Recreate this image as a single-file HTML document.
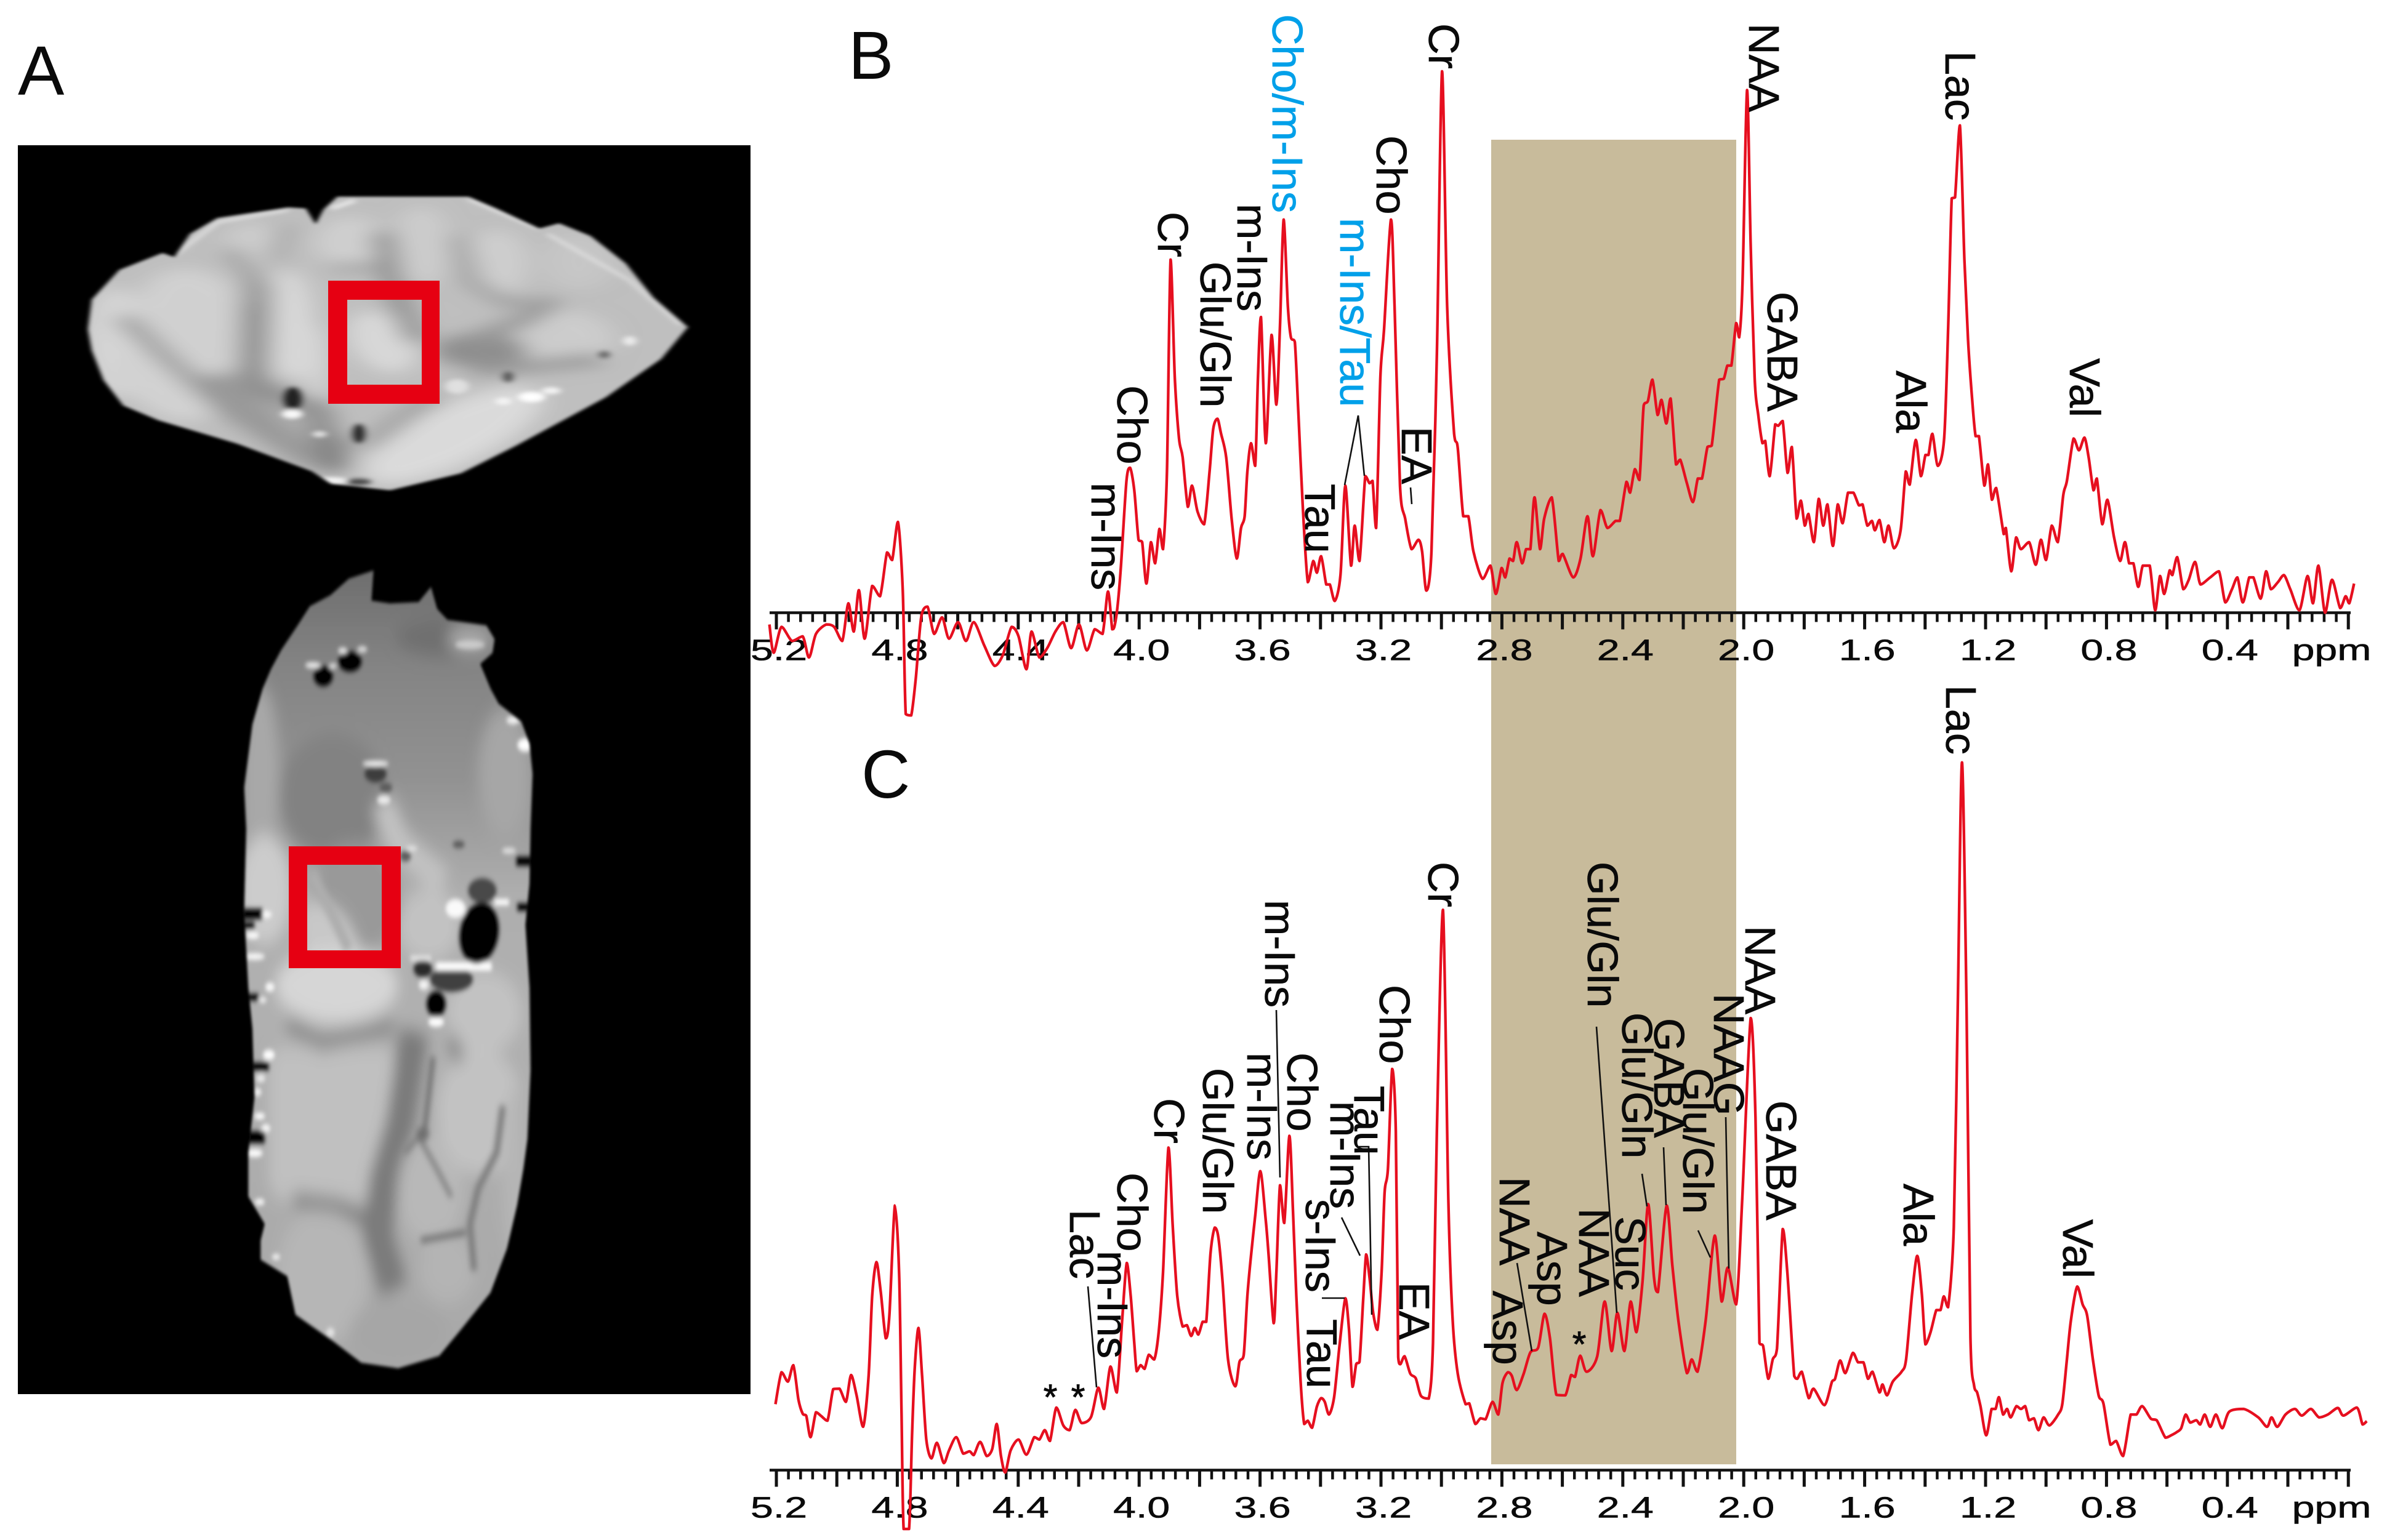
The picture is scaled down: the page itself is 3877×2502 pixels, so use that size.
<!DOCTYPE html>
<html lang="en">
<head>
<meta charset="utf-8">
<title>MR image and 1H NMR spectra</title>
<style>
html,body{margin:0;padding:0;background:#fff;}
svg{display:block;}
text{font-family:"Liberation Sans",Arial,sans-serif;fill:#0a0a0a;}
.pk{font-size:70px;stroke:#0a0a0a;stroke-width:0.7px;}
.blue{fill:#00a0e9;stroke:#00a0e9;}
.ltr{font-size:110px;}
.lead{stroke:#111;stroke-width:2.6;fill:none;}
.star{font-size:58px;stroke:#0a0a0a;stroke-width:1px;}
.tk{stroke:#0a0a0a;stroke-width:0.6px;}
</style>
</head>
<body>
<svg id="fig" xmlns="http://www.w3.org/2000/svg" width="3877" height="2502" viewBox="0 0 3877 2502">
<rect x="0" y="0" width="3877" height="2502" fill="#fff"/>

<text class="ltr" x="29" y="154" style="font-size:113px">A</text>
<text class="ltr" x="1378" y="128">B</text>
<text class="ltr" x="1399" y="1296">C</text>

<rect x="29" y="236" width="1190" height="2029" fill="#000"/>
<defs>
  <filter id="soft" filterUnits="userSpaceOnUse" x="-200" y="-200" width="2000" height="3600"><feGaussianBlur stdDeviation="32"/></filter>
  <filter id="mid" filterUnits="userSpaceOnUse" x="-200" y="-200" width="2000" height="3600"><feGaussianBlur stdDeviation="12"/></filter>
  <filter id="fine" filterUnits="userSpaceOnUse" x="-200" y="-200" width="2000" height="3600"><feGaussianBlur stdDeviation="7"/></filter>
  <filter id="edge" filterUnits="userSpaceOnUse" x="-200" y="-200" width="2000" height="3600"><feGaussianBlur stdDeviation="6"/></filter>
  <linearGradient id="lowGrad" gradientUnits="userSpaceOnUse" x1="0" y1="60" x2="0" y2="3000">
    <stop offset="0" stop-color="#6e6e6e"/>
    <stop offset="0.12" stop-color="#848484"/>
    <stop offset="0.26" stop-color="#929292"/>
    <stop offset="0.4" stop-color="#aeaeae"/>
    <stop offset="0.55" stop-color="#b0b0b0"/>
    <stop offset="1" stop-color="#a8a8a8"/>
  </linearGradient>
  <clipPath id="upClip"><path d="M20 740L30 600L100 460L210 380L240 400L280 290L350 215L530 165L575 170L600 245L620 175L655 115L860 115L990 115L1060 170L1170 265L1220 240L1300 300L1390 430L1460 590L1548 730L1480 880L1340 1060L1230 1170L1110 1290L970 1420L790 1500L640 1470L590 1410L400 1280L200 1170L110 1100L60 980L30 840Z"/></clipPath>
  <clipPath id="lowClip"><path d="M370 190L470 150L560 90L680 60L670 170L760 180L900 175L960 120L990 200L1040 240L1230 260L1270 310L1260 360L1200 400L1250 490L1290 545L1400 610L1440 690L1455 800L1445 1000L1440 1200L1420 1350L1440 1578L1445 1878L1430 2128L1410 2238L1380 2368L1330 2528L1250 2688L1100 2828L1000 2918L800 2963L620 2943L480 2863L300 2768L260 2628L130 2568L130 2498L150 2438L70 2338L70 2178L100 1978L90 1728L70 1578L50 1300L60 1000L50 850L90 620L140 490L180 420L230 350L310 260Z"/></clipPath>
</defs>

<svg x="130" y="280" width="1000" height="540" viewBox="0 0 1568 1568" preserveAspectRatio="none">
 <g filter="url(#edge)">
  <g clip-path="url(#upClip)">
    <rect x="0" y="0" width="1568" height="1568" fill="#bfbfbf"/>
    <g filter="url(#soft)">
      <ellipse cx="300" cy="700" rx="150" ry="250" transform="rotate(-12 300 700)" fill="#d0d0d0"/>
      <ellipse cx="90" cy="800" rx="80" ry="260" fill="#d4d4d4"/>
      <ellipse cx="530" cy="720" rx="65" ry="260" fill="#d8d8d8"/>
      <ellipse cx="600" cy="900" rx="30" ry="180" fill="#d6d6d6"/>
      <ellipse cx="440" cy="340" rx="70" ry="100" fill="#cccccc"/>
      <ellipse cx="690" cy="330" rx="90" ry="120" fill="#cfcfcf"/>
      <ellipse cx="870" cy="350" rx="70" ry="190" fill="#cccccc"/>
      <ellipse cx="1060" cy="430" rx="80" ry="160" fill="#cecece"/>
      <ellipse cx="770" cy="800" rx="80" ry="150" transform="rotate(-15 770 800)" fill="#d8d8d8"/>
      <ellipse cx="1220" cy="790" rx="140" ry="140" fill="#cccccc"/>
      <ellipse cx="1270" cy="420" rx="90" ry="130" fill="#c6c6c6"/>
      <ellipse cx="950" cy="1240" rx="300" ry="120" transform="rotate(-45 950 1240)" fill="#dadada"/>
      <ellipse cx="220" cy="1010" rx="100" ry="180" transform="rotate(-30 220 1010)" fill="#d2d2d2"/>
      <path d="M110 680L200 840L370 1120L580 1370" stroke="#989898" stroke-width="50" fill="none"/>
      <path d="M450 520L445 800L440 1000L600 1120L650 1400" stroke="#8f8f8f" stroke-width="80" fill="none"/>
      <path d="M330 960L470 1160L590 1370" stroke="#999" stroke-width="80" fill="none"/>
      <path d="M385 360L440 500L450 620" stroke="#9e9e9e" stroke-width="44" fill="none"/>
      <path d="M530 250L490 420" stroke="#a0a0a0" stroke-width="34" fill="none"/>
      <path d="M770 280L790 470L820 650L860 800" stroke="#8e8e8e" stroke-width="56" fill="none"/>
      <path d="M640 445L760 445" stroke="#a2a2a2" stroke-width="40" fill="none"/>
      <path d="M960 300L1000 520L1090 620L1150 600" stroke="#9e9e9e" stroke-width="44" fill="none"/>
      <ellipse cx="1020" cy="840" rx="120" ry="80" fill="#8e8e8e"/>
      <path d="M1000 790L1130 700L1210 600" stroke="#989898" stroke-width="60" fill="none"/>
      <path d="M1000 940L1330 880" stroke="#9a9a9a" stroke-width="60" fill="none"/>
      <path d="M640 1250L640 1410" stroke="#848484" stroke-width="84" fill="none"/>
      <path d="M900 1060L720 1300" stroke="#9e9e9e" stroke-width="56" fill="none"/>
    </g>
    <g filter="url(#fine)">
      <path d="M240 390L350 235L530 178" stroke="#efefef" stroke-width="9" fill="none"/>
      <path d="M640 170L700 132" stroke="#f2f2f2" stroke-width="14" fill="none"/>
      <path d="M990 125L1060 180L1170 265" stroke="#f2f2f2" stroke-width="10" fill="none"/>
      <path d="M1190 290L1400 510L1530 720" stroke="#ececec" stroke-width="8" fill="none"/>
      <ellipse cx="542" cy="1068" rx="24" ry="56" fill="#222"/>
      <ellipse cx="540" cy="1140" rx="26" ry="22" fill="#fafafa"/>
      <ellipse cx="710" cy="1232" rx="17" ry="46" fill="#2a2a2a"/>
      <ellipse cx="1150" cy="1060" rx="34" ry="24" fill="#fff"/>
      <ellipse cx="1200" cy="1030" rx="24" ry="16" fill="#f4f4f4"/>
      <ellipse cx="1078" cy="1080" rx="20" ry="17" fill="#f4f4f4"/>
      <ellipse cx="960" cy="1010" rx="30" ry="34" fill="#e0e0e0"/>
      <ellipse cx="1400" cy="795" rx="17" ry="22" fill="#ececec"/>
      <ellipse cx="1090" cy="965" rx="14" ry="26" fill="#5a5a5a"/>
      <ellipse cx="1335" cy="860" rx="15" ry="18" fill="#6a6a6a"/>
      <ellipse cx="640" cy="1455" rx="42" ry="16" fill="#f6f6f6"/>
      <ellipse cx="610" cy="1235" rx="18" ry="14" fill="#e4e4e4"/>
      <ellipse cx="710" cy="1460" rx="32" ry="16" fill="#4a4a4a"/>
    </g>
  </g>
 </g>
</svg>

<svg x="380" y="900" width="520" height="1360" viewBox="0 0 1560 3046" preserveAspectRatio="none">
 <g filter="url(#edge)">
  <g clip-path="url(#lowClip)">
    <rect x="0" y="0" width="1560" height="3046" fill="url(#lowGrad)"/>
    <g filter="url(#soft)">
      <ellipse cx="130" cy="800" rx="90" ry="320" fill="#a8a8a8"/>
      <ellipse cx="480" cy="880" rx="260" ry="230" fill="#828282"/>
      <ellipse cx="1320" cy="800" rx="130" ry="240" fill="#a6a6a6"/>
      <ellipse cx="1030" cy="300" rx="240" ry="70" fill="#707070"/>
      <ellipse cx="1150" cy="310" rx="110" ry="46" fill="#ababab"/>
      <path d="M720 900L800 1050L1020 1200" stroke="#c2c2c2" stroke-width="110" fill="none"/>
      <ellipse cx="150" cy="1220" rx="130" ry="200" fill="#cccccc"/>
      <ellipse cx="600" cy="1250" rx="210" ry="190" transform="rotate(35 600 1250)" fill="#999"/>
      <ellipse cx="460" cy="1400" rx="170" ry="110" transform="rotate(40 460 1400)" fill="#c8c8c8"/>
      <ellipse cx="950" cy="1350" rx="150" ry="130" fill="#c2c2c2"/>
      <ellipse cx="500" cy="1570" rx="300" ry="140" fill="#d6d6d6"/>
      <rect x="170" y="1790" width="610" height="560" rx="80" fill="#c0c0c0"/>
      <path d="M260 1708L430 1778L780 1718" stroke="#8a8a8a" stroke-width="60" fill="none"/>
      <path d="M880 1738L810 2078L730 2278L700 2478L780 2678" stroke="#7a7a7a" stroke-width="140" fill="none"/>
      <ellipse cx="430" cy="2628" rx="220" ry="250" fill="#b6b6b6"/>
      <path d="M290 2348L500 2368L650 2428" stroke="#777" stroke-width="44" fill="none"/>
      <ellipse cx="960" cy="2308" rx="160" ry="200" fill="#b8b8b8"/>
      <ellipse cx="1040" cy="2598" rx="135" ry="130" fill="#b4b4b4"/>
      <ellipse cx="1200" cy="2028" rx="210" ry="230" fill="#c2c2c2"/>
      <ellipse cx="1220" cy="1668" rx="180" ry="150" fill="#c2c2c2"/>
      <path d="M1060 1758L1100 1848" stroke="#858585" stroke-width="50" fill="none"/>
      <ellipse cx="1370" cy="2250" rx="60" ry="310" fill="#b6b6b6"/>
      <ellipse cx="800" cy="2830" rx="240" ry="120" fill="#a6a6a6"/>
    </g>
    <g filter="url(#mid)">
      <path d="M1310 2008L1280 2178L1190 2308L1150 2438L1170 2608" stroke="#7c7c7c" stroke-width="30" fill="none"/>
      <path d="M910 2498L1130 2468" stroke="#6e6e6e" stroke-width="22" fill="none"/>
      <path d="M830 2180L900 2120L990 2240L1060 2340" stroke="#7e7e7e" stroke-width="20" fill="none"/>
      <ellipse cx="920" cy="2110" rx="32" ry="26" fill="#6e6e6e"/>
      <path d="M970 1830L930 2090" stroke="#707070" stroke-width="24" fill="none"/>
      <path d="M380 1160L560 1440" stroke="#adadad" stroke-width="46" fill="none"/>
    </g>
    <g filter="url(#fine)">
      <ellipse cx="1210" cy="1225" rx="70" ry="46" fill="#4a4a4a"/>
      <ellipse cx="1060" cy="1548" rx="105" ry="46" fill="#404040"/>
      <ellipse cx="920" cy="1510" rx="46" ry="32" fill="#2a2a2a"/>
      <ellipse cx="1080" cy="1290" rx="48" ry="34" fill="#fafafa"/>
      <rect x="985" y="1486" width="270" height="30" fill="#fff"/>
      <rect x="1270" y="1256" width="70" height="22" fill="#fff"/>
      <rect x="860" y="1462" width="100" height="18" fill="#e6e6e6"/>
      <ellipse cx="1195" cy="1380" rx="94" ry="114" transform="rotate(22 1195 1380)" fill="#000"/>
      <ellipse cx="985" cy="1638" rx="48" ry="48" fill="#000"/>
      <ellipse cx="985" cy="1703" rx="38" ry="17" fill="#fff"/>
      <ellipse cx="925" cy="1568" rx="24" ry="18" fill="#f4f4f4"/>
      <ellipse cx="435" cy="445" rx="48" ry="38" fill="#000"/>
      <ellipse cx="565" cy="392" rx="58" ry="38" fill="#000"/>
      <ellipse cx="385" cy="405" rx="38" ry="10" fill="#f4f4f4"/>
      <ellipse cx="482" cy="408" rx="18" ry="8" fill="#f4f4f4"/>
      <ellipse cx="530" cy="352" rx="22" ry="10" fill="#f4f4f4"/>
      <ellipse cx="625" cy="347" rx="24" ry="10" fill="#e6e6e6"/>
      <ellipse cx="690" cy="800" rx="54" ry="32" fill="#3c3c3c"/>
      <ellipse cx="690" cy="763" rx="64" ry="10" fill="#f4f4f4"/>
      <ellipse cx="740" cy="850" rx="32" ry="18" fill="#5c5c5c"/>
      <ellipse cx="730" cy="895" rx="32" ry="16" fill="#ececec"/>
      <ellipse cx="835" cy="1100" rx="28" ry="20" fill="#5c5c5c"/>
      <ellipse cx="865" cy="1072" rx="28" ry="9" fill="#e4e4e4"/>
      <ellipse cx="1095" cy="1057" rx="30" ry="14" fill="#5c5c5c"/>
      <ellipse cx="1420" cy="695" rx="38" ry="24" fill="#fff"/>
      <ellipse cx="1360" cy="605" rx="32" ry="14" fill="#f4f4f4"/>
      <ellipse cx="1340" cy="1080" rx="34" ry="10" fill="#e4e4e4"/>
      <ellipse cx="1150" cy="330" rx="72" ry="16" fill="#cccccc"/>
      <ellipse cx="150" cy="1312" rx="34" ry="12" fill="#fff"/>
      <ellipse cx="90" cy="1388" rx="32" ry="12" fill="#fff"/>
      <ellipse cx="100" cy="1465" rx="50" ry="12" fill="#fafafa"/>
      <ellipse cx="175" cy="1576" rx="22" ry="16" fill="#fafafa"/>
      <ellipse cx="140" cy="1623" rx="18" ry="10" fill="#f4f4f4"/>
      <ellipse cx="170" cy="1823" rx="28" ry="18" fill="#fff"/>
      <ellipse cx="130" cy="1908" rx="22" ry="14" fill="#ececec"/>
      <ellipse cx="115" cy="1958" rx="18" ry="14" fill="#f4f4f4"/>
      <ellipse cx="125" cy="2046" rx="26" ry="12" fill="#fff"/>
      <ellipse cx="155" cy="2090" rx="22" ry="14" fill="#fafafa"/>
      <ellipse cx="100" cy="2180" rx="40" ry="14" fill="#fff"/>
      <ellipse cx="125" cy="2358" rx="24" ry="11" fill="#fafafa"/>
      <ellipse cx="205" cy="2558" rx="20" ry="10" fill="#f6f6f6"/>
      <ellipse cx="470" cy="2833" rx="20" ry="16" fill="#e6e6e6"/>
      <rect x="30" y="1290" width="110" height="40" fill="#000"/>
      <rect x="30" y="1340" width="70" height="24" fill="#000"/>
      <rect x="40" y="1600" width="80" height="26" fill="#000"/>
      <rect x="40" y="1850" width="130" height="30" fill="#000"/>
      <rect x="40" y="2100" width="110" height="45" fill="#000"/>
      <rect x="1375" y="1100" width="100" height="36" fill="#000"/>
      <rect x="1380" y="1270" width="90" height="30" fill="#000"/>
    </g>
  </g>
 </g>
</svg>

<path fill-rule="evenodd" fill="#e60012" d="M533 456H714V656H533ZM564 487V625H685V487Z"/>
<path fill-rule="evenodd" fill="#e60012" d="M469 1375H651V1573H469ZM499 1405V1544H620V1405Z"/>

<rect x="2422" y="227" width="398" height="2152" fill="#c8bb9b"/>

<g id="axes"></g>
<g id="traces"></g>

<g>
  <path class="lead" d="M2184 788L2206 675L2216 773"/>
  <path class="lead" d="M2291 792L2293 819"/>
</g>
<g>
  <text class="pk blue" transform="translate(2067,23) rotate(90)">Cho/m-Ins</text>
  <text class="pk blue" transform="translate(2177,354) rotate(90)">m-Ins/Tau</text>
  <text class="pk" transform="translate(1881,344) rotate(90)">Cr</text>
  <text class="pk" transform="translate(1950,425) rotate(90)">Glu/Gln</text>
  <text class="pk" transform="translate(2010,331) rotate(90)">m-Ins</text>
  <text class="pk" transform="translate(1815,626) rotate(90)">Cho</text>
  <text class="pk" transform="translate(1773,784) rotate(90)">m-Ins</text>
  <text class="pk" transform="translate(2120,786) rotate(90)">Tau</text>
  <text class="pk" transform="translate(2236,220) rotate(90)">Cho</text>
  <text class="pk" transform="translate(2277,693) rotate(90)">EA</text>
  <text class="pk" transform="translate(2321,38) rotate(90)">Cr</text>
  <text class="pk" transform="translate(2841,38) rotate(90)">NAA</text>
  <text class="pk" transform="translate(2871,474) rotate(90)">GABA</text>
  <text class="pk" transform="translate(3160,83) rotate(90)">Lac</text>
  <text class="pk" transform="translate(3080,602) rotate(90)">Ala</text>
  <text class="pk" transform="translate(3362,582) rotate(90)">Val</text>
</g>

<g>
  <path class="lead" d="M2073 1641L2079 1913"/>
  <path class="lead" d="M1767 2090L1781 2254"/>
  <path class="lead" d="M2179 1978L2209 2040"/>
  <path class="lead" d="M2207 1863L2223 1863L2228 2136"/>
  <path class="lead" d="M2147 2109L2184 2109"/>
  <path class="lead" d="M2464 2052L2488 2195"/>
  <path class="lead" d="M2593 1668L2626 2133"/>
  <path class="lead" d="M2667 1907L2675 1960"/>
  <path class="lead" d="M2702 1864L2706 1958"/>
  <path class="lead" d="M2758 1999L2778 2043"/>
  <path class="lead" d="M2803 1815L2808 2061"/>
</g>
<g>
  <text class="pk" transform="translate(2320,1400) rotate(90)">Cr</text>
  <text class="pk" transform="translate(2055,1462) rotate(90)">m-Ins</text>
  <text class="pk" transform="translate(2026,1710) rotate(90)">m-Ins</text>
  <text class="pk" transform="translate(2091,1710) rotate(90)">Cho</text>
  <text class="pk" transform="translate(1954,1735) rotate(90)">Glu/Gln</text>
  <text class="pk" transform="translate(1875,1784) rotate(90)">Cr</text>
  <text class="pk" transform="translate(1815,1905) rotate(90)">Cho</text>
  <text class="pk" transform="translate(1738,1965) rotate(90)">Lac</text>
  <text class="pk" transform="translate(1783,2032) rotate(90)">m-Ins</text>
  <text class="pk" transform="translate(2241,1600) rotate(90)">Cho</text>
  <text class="pk" transform="translate(2200,1764) rotate(90)">Tau</text>
  <text class="pk" transform="translate(2161,1789) rotate(90)">m-Ins</text>
  <text class="pk" transform="translate(2121,1948) rotate(90)">s-Ins</text>
  <text class="pk" transform="translate(2123,2143) rotate(90)">Tau</text>
  <text class="pk" transform="translate(2273,2083) rotate(90)">EA</text>
  <text class="pk" transform="translate(2579,1400) rotate(90)">Glu/Gln</text>
  <text class="pk" transform="translate(2565,1963) rotate(90)">NAA</text>
  <text class="pk" transform="translate(2624,1976) rotate(90)">Suc</text>
  <text class="pk" transform="translate(2635,1645) rotate(90)">Glu/Gln</text>
  <text class="pk" transform="translate(2687,1654) rotate(90)">GABA</text>
  <text class="pk" transform="translate(2734,1735) rotate(90)">Glu/Gln</text>
  <text class="pk" transform="translate(2784,1614) rotate(90)">NAAG</text>
  <text class="pk" transform="translate(2835,1504) rotate(90)">NAA</text>
  <text class="pk" transform="translate(2869,1788) rotate(90)">GABA</text>
  <text class="pk" transform="translate(3092,1923) rotate(90)">Ala</text>
  <text class="pk" transform="translate(3161,1113) rotate(90)">Lac</text>
  <text class="pk" transform="translate(3351,1981) rotate(90)">Val</text>
  <text class="pk" transform="translate(2436,1912) rotate(90)">NAA</text>
  <text class="pk" transform="translate(2497,2001) rotate(90)">Asp</text>
  <text class="pk" transform="translate(2425,2097) rotate(90)">Asp</text>
  <text class="star" x="1706" y="2290" text-anchor="middle">*</text>
  <text class="star" x="1751" y="2290" text-anchor="middle">*</text>
  <text class="star" x="2565" y="2204" text-anchor="middle">*</text>
</g>
</svg>

<script>
// Tick labels (ppm)
var tickLabels = ["5.2","4.8","4.4","4.0","3.6","3.2","2.8","2.4","2.0","1.6","1.2","0.8","0.4"];

// Panel B spectrum: chemical shift (ppm) and intensity (a.u.)
var bPpm = [
5.223,5.209,5.183,5.148,5.113,5.092,5.069,5.035,5.009,4.982,
4.962,4.944,4.927,4.908,4.883,4.857,4.834,4.817,4.798,4.782,
4.772,4.754,4.739,4.721,4.700,4.678,4.652,4.629,4.599,4.573,
4.547,4.512,4.478,4.451,4.422,4.399,4.373,4.356,4.330,4.304,
4.277,4.251,4.225,4.199,4.173,4.147,4.121,4.103,4.089,4.082,
4.072,4.060,4.042,4.030,4.016,4.002,3.990,3.976,3.961,3.947,
3.933,3.921,3.908,3.896,3.882,3.868,3.856,3.839,3.825,3.807,
3.785,3.767,3.755,3.741,3.729,3.712,3.694,3.677,3.663,3.651,
3.642,3.630,3.616,3.607,3.597,3.581,3.562,3.546,3.534,3.522,
3.508,3.498,3.485,3.473,3.459,3.442,3.424,3.412,3.398,3.381,
3.369,3.353,3.334,3.318,3.299,3.287,3.271,3.252,3.238,3.228,
3.216,3.202,3.190,3.167,3.155,3.137,3.120,3.099,3.076,3.064,
3.050,3.033,3.015,2.998,2.981,2.958,2.946,2.928,2.911,2.894,
2.864,2.838,2.820,2.801,2.789,2.775,2.763,2.751,2.733,2.720,
2.706,2.692,2.674,
2.660,2.635,2.612,2.599,2.564,2.540,2.517,2.499,2.474,2.451,
2.424,2.410,2.388,2.376,2.360,2.345,2.331,2.317,2.302,2.285,
2.272,2.256,2.242,2.224,2.210,2.188,2.168,2.152,2.138,2.120,
2.106,2.081,2.066,2.054,2.041,2.025,2.015,2.004,1.989,1.977,
1.964,1.952,1.938,1.929,1.914,1.896,1.886,1.871,1.855,1.841,
1.825,1.811,1.798,1.786,1.768,1.752,1.737,1.723,1.705,1.689,
1.673,1.655,1.637,1.619,1.607,1.591,1.576,1.566,1.551,1.535,
1.521,1.503,1.481,1.464,1.451,1.431,1.414,1.399,1.389,1.376,
1.358,1.337,1.324,1.312,1.301,1.285,1.270,1.258,1.244,1.233,
1.222,1.204,1.192,1.179,1.165,1.140,1.133,1.115,1.099,1.083,
1.056,1.034,1.017,1.000,0.981,0.961,0.943,0.931,0.909,0.891,
0.873,0.859,0.843,0.832,0.814,0.797,0.775,0.755,0.739,0.725,
0.711,0.695,0.680,0.657,0.639,0.623,0.609,0.591,0.582,0.566,
0.546,0.528,0.507,0.489,0.457,0.428,0.407,0.385,0.367,0.349,
0.328,0.314,0.290,0.272,0.256,0.233,0.213,0.192,0.162,0.135,
0.117,0.099,0.077,0.054,0.027,0.009,-0.003,-0.019
];
var bIntensity = [
-2.5,-8.5,-3,-6,-5,-9.5,-4.5,-2.5,-3,-6,
2,-4,4.8,-5.5,5.7,3.5,12.8,11.2,19.3,5,
-21.5,-21.8,-14,-1,1.3,-4.5,-1,-5.5,-2,-6,
-2,-7,-11.3,-9,-3,-5,-12,-4,-9.5,-7.5,
-4,-2,-7.5,-2.5,-8,-3.5,-4.5,4.5,-3.5,-3,
1,10,28,30.8,26,15.5,15,6.2,15,10.5,
17.8,13.5,30,75,50,37,33,22.5,27,21.5,
18.8,30,39,41.2,38,33,20,11.5,18,20.5,
30,36,31.2,50,62.8,36,59,44.2,61,83.5,
65,58.5,57.5,42,23,6.5,11,8.5,12,6,
6,2.5,8,27,10,18.5,11,29,27.5,28,
18,50,60,83.5,65,27,20,13.5,15.5,13,
4.7,13,55,115,65,38,35,20.5,20.5,13,
7.2,10,4,9.5,7.5,11.5,11,15,10.5,13.5,
13.5,24.5,13.5,
20,24.5,11,12.5,7.5,11.5,20.5,12,21.8,18,
19.5,19.5,27.8,25.5,30.5,28.2,44,45,49.5,42,
45.2,40.2,45.5,31.5,32.5,27.5,23.5,28.5,28.5,35.2,
35.5,49.5,49.7,52.5,52.5,61.5,58.5,70,111,78,
50,42,36,36.5,29,40,39.7,40.7,29.7,35.2,
20,23.8,18.5,21,15,24.2,18.5,23,14.2,23,
19,25.5,25.5,22.8,23,18.5,19.5,17.5,19.7,15,
18.5,13.7,17.5,30,27.2,36.7,29,33.5,33.5,38,
31.2,37,60,88,88.2,103.5,75,58,45,37.5,
37.5,27,31.5,24,26.5,16.7,18,8.8,16,13.5,
15,10.2,15.5,11.2,18.5,15,25,28,37,34.5,
37.2,33,26,28.5,18.8,24,16,11,15,10.5,
10.5,5.5,10,10,0.5,7.8,4,9,8,11.8,
5,7,10.8,6,7.5,8.8,2.2,5,7.5,2.2,
7.5,7.5,3,8.8,5,6.5,8,5,0.5,7.8,
2,10,0,7,1,3.5,2,6.2
];

// Panel C spectrum: chemical shift (ppm) and intensity (a.u.)
var cPpm = [
5.203,5.183,5.162,5.144,5.127,5.113,5.101,5.087,5.069,5.052,
5.031,5.012,4.991,4.970,4.953,4.935,4.913,4.895,4.883,4.869,
4.855,4.838,4.826,4.808,4.794,4.786,4.779,4.761,4.751,4.742,
4.730,4.718,4.704,4.687,4.669,4.646,4.629,4.605,4.582,4.561,
4.547,4.526,4.504,4.486,4.471,4.457,4.443,4.425,4.399,4.373,
4.347,4.330,4.312,4.295,4.274,4.251,4.230,4.211,4.190,4.159,
4.135,4.116,4.095,4.074,4.056,4.041,4.028,4.016,4.008,3.995,
3.982,3.968,3.950,3.935,3.921,3.903,3.889,3.874,3.856,3.842,
3.828,3.816,3.804,3.790,3.778,3.764,3.750,3.738,3.724,3.706,
3.682,3.668,3.654,3.642,3.630,3.616,3.599,3.581,3.572,3.555,
3.546,3.534,3.520,3.503,3.491,3.480,3.466,3.454,3.442,3.428,
3.412,3.398,3.386,3.372,3.355,3.337,3.318,3.306,3.294,3.282,
3.271,3.259,3.249,3.238,3.226,3.212,3.198,3.188,3.177,3.163,
3.151,3.143,3.136,3.122,3.103,3.085,3.068,3.042,3.028,3.015,
2.995,2.977,2.963,2.946,2.920,2.908,2.888,2.871,2.854,2.831,
2.812,2.798,2.780,2.767,2.751,2.728,2.706,2.680,2.659,2.641,
2.620,
2.590,2.571,2.558,2.541,2.520,2.485,2.460,2.437,2.418,2.395,
2.374,2.355,2.335,2.316,2.297,2.284,2.255,2.236,2.216,2.188,
2.172,2.153,2.126,2.096,2.073,2.053,2.025,2.005,1.977,1.961,
1.948,1.936,1.919,1.904,1.890,1.871,1.856,1.833,1.823,1.808,
1.785,1.769,1.733,1.708,1.698,1.681,1.664,1.639,1.622,1.604,
1.589,1.574,1.551,1.541,1.526,1.507,1.478,1.463,1.443,1.426,
1.411,1.399,1.382,1.363,1.349,1.338,1.324,1.305,1.292,1.278,
1.263,1.250,1.238,1.228,1.217,1.198,1.180,1.167,1.156,1.142,
1.129,1.117,1.098,1.083,1.069,1.056,1.040,1.025,1.008,0.989,
0.960,0.946,0.931,0.918,0.897,0.879,0.864,0.845,0.826,0.810,
0.787,0.768,0.745,0.720,0.701,0.682,0.653,0.634,0.605,0.586,
0.567,0.553,0.538,0.523,0.503,0.490,0.475,0.457,0.438,0.417,
0.394,0.346,0.298,0.269,0.254,0.235,0.208,0.177,0.154,0.124,
0.097,0.068,0.035,0.016,-0.028,-0.047,-0.061
];
var cIntensity = [
14,20.8,18.8,22.3,15,12,11.5,7,12.3,11.5,
10.5,17.2,17.3,14.5,20.2,16,9.2,20,37,44.2,
38,28,33,56.2,42,12,-12.5,-12.5,8,22,
30.2,20,6.5,2.5,5.8,1.5,4.2,7,3.5,4,
3.2,6,3,4.5,9.8,3,-0.5,4.2,6.5,3.3,
7,6.5,8.5,6.2,13.3,9.5,8.5,12.8,10,11.3,
17.5,13,22,16.5,32,44,37,27,21,22.3,
21.5,24.5,23.5,29.5,42,68.5,52,37,30.5,30.8,
28.5,30.2,28.8,31.5,31.5,46,51.5,49.5,40,23.5,
17.8,23,24.5,37,45.5,54,63.5,53,46,31.2,
42,60.5,52.5,71,55,37,19,9.8,10.5,9,
13.5,15.3,14.5,11.8,15.5,26.5,36.5,30,17.7,22.5,
23,36,45.8,41,33.5,29.8,42,59,64,85.2,
72,24,22.5,24.2,20.5,19.5,15.8,15.2,27,72,
119,57,32,20.5,14,14.2,9.8,11,10.8,14.5,
11.8,18.5,20.8,20,17,20.5,25,26,33.2,28,
16,
15.9,20.2,19.8,24.3,20.9,24.1,35.8,25.3,33.4,25.3,
35.8,29.3,39.9,56.5,41,37.8,56.2,43.4,31.7,20.6,
23.5,20.9,31.7,49.8,35.8,43,35.2,57.4,96,74.9,
27,26.4,19.4,23.5,25.8,51.2,42.2,20,19.4,20.9,
15.3,17.3,13.8,18.8,19.4,23.3,20.6,24.9,22.9,22.9,
19.4,20.9,16.5,18.2,15.9,18.8,20.9,23.5,37.5,45.5,
37.5,26.7,29.3,34,34,36.9,34.6,51.6,98.3,150.3,
98.3,28.2,18,16.5,13.6,7.4,13,13,15.5,11.8,
13,11.2,13.6,13,13.6,10.6,11,8.5,11.2,9.5,
11.8,14.1,23.5,31.7,39,35.2,32.8,23.5,15.9,14.1,
5.4,6.2,3,11.8,11.8,13.6,10.9,10.6,6.9,7.4,
8.1,8.9,11.8,10.1,10.6,9.7,11.8,9.2,11.8,8.9,
12.4,13,11.2,9.2,11.2,9.2,11.8,13,11.6,13,
11.2,11.8,13.2,11.6,13.3,9.7,10.4
];

var SVGNS = "http://www.w3.org/2000/svg";
var X0 = 1261, PX_PER_PPM = 491, PX_PER_UNIT = 7.65;
var AXIS_B = 995.5, AXIS_C = 2388.5;
function xScale(ppm) { return X0 + (5.2 - ppm) * PX_PER_PPM; }
function yScale(v, axisY) { return axisY - v * PX_PER_UNIT; }

function make(tag, attrs, parent) {
  var el = document.createElementNS(SVGNS, tag);
  for (var k in attrs) { el.setAttribute(k, attrs[k]); }
  parent.appendChild(el);
  return el;
}

function drawAxis(axisY, panel) {
  var root = document.getElementById("axes");
  var line = make("line", {x1: 1250, x2: 3818, y1: axisY, y2: axisY, stroke: "#111", "stroke-width": 4.5}, root);
  
  
  var minorCount = Math.round(5.2 / 0.04);
  var d = "", D = "";
  for (var i = 0; i <= minorCount; i++) {
    var ppm = 5.2 - i * 0.04;
    var x = xScale(ppm);
    if (i % 5 === 0) { D += "M" + x.toFixed(1) + " " + axisY + "V" + (axisY + 27); }
    else { d += "M" + x.toFixed(1) + " " + axisY + "V" + (axisY + 15); }
  }
  var minor = make("path", {d: d, stroke: "#111", "stroke-width": 4.5, fill: "none"}, root);
  
  
  var major = make("path", {d: D, stroke: "#111", "stroke-width": 5, fill: "none"}, root);
  
  
  var baseY = axisY + 77;
  tickLabels.forEach(function (label) {
    var tx = xScale(parseFloat(label)) + 4;
    var t = make("text", {"class": "tk", "text-anchor": "middle", transform: "translate(" + tx.toFixed(1) + "," + baseY + ") scale(1.38,1)", "font-size": 48}, root);
    
    
    t.textContent = label;
  });
  var u = make("text", {"class": "tk", "text-anchor": "middle", transform: "translate(3787," + baseY + ") scale(1.38,1)", "font-size": 48}, root);
  
  
  u.textContent = "ppm";
}

function clampTo(v, a, b) {
  var lo = Math.min(a, b), hi = Math.max(a, b);
  return Math.max(lo, Math.min(hi, v));
}

function drawTrace(ppmArr, valArr, axisY, panel) {
  var n = Math.min(ppmArr.length, valArr.length);
  var pts = [];
  for (var i = 0; i < n; i++) { pts.push([xScale(ppmArr[i]), yScale(valArr[i], axisY)]); }
  var d = "M" + pts[0][0].toFixed(1) + " " + pts[0][1].toFixed(1);
  var k = 1 / 7;
  for (var j = 0; j < n - 1; j++) {
    var p0 = pts[Math.max(0, j - 1)], p1 = pts[j], p2 = pts[j + 1], p3 = pts[Math.min(n - 1, j + 2)];
    var c1x = p1[0] + (p2[0] - p0[0]) * k;
    var c1y = clampTo(p1[1] + (p2[1] - p0[1]) * k, p1[1], p2[1]);
    var c2x = p2[0] - (p3[0] - p1[0]) * k;
    var c2y = clampTo(p2[1] - (p3[1] - p1[1]) * k, p1[1], p2[1]);
    d += "C" + c1x.toFixed(1) + " " + c1y.toFixed(1) + " " + c2x.toFixed(1) + " " + c2y.toFixed(1) + " " + p2[0].toFixed(1) + " " + p2[1].toFixed(1);
  }
  var path = make("path", {d: d, fill: "none", stroke: "#e60f1f", "stroke-width": 4.4, "stroke-linejoin": "round"}, document.getElementById("traces"));
  
  
}

drawAxis(AXIS_B, 'b');
drawAxis(AXIS_C, 'c');
drawTrace(bPpm, bIntensity, AXIS_B, 'b');
drawTrace(cPpm, cIntensity, AXIS_C, 'c');
</script>
</body>
</html>
